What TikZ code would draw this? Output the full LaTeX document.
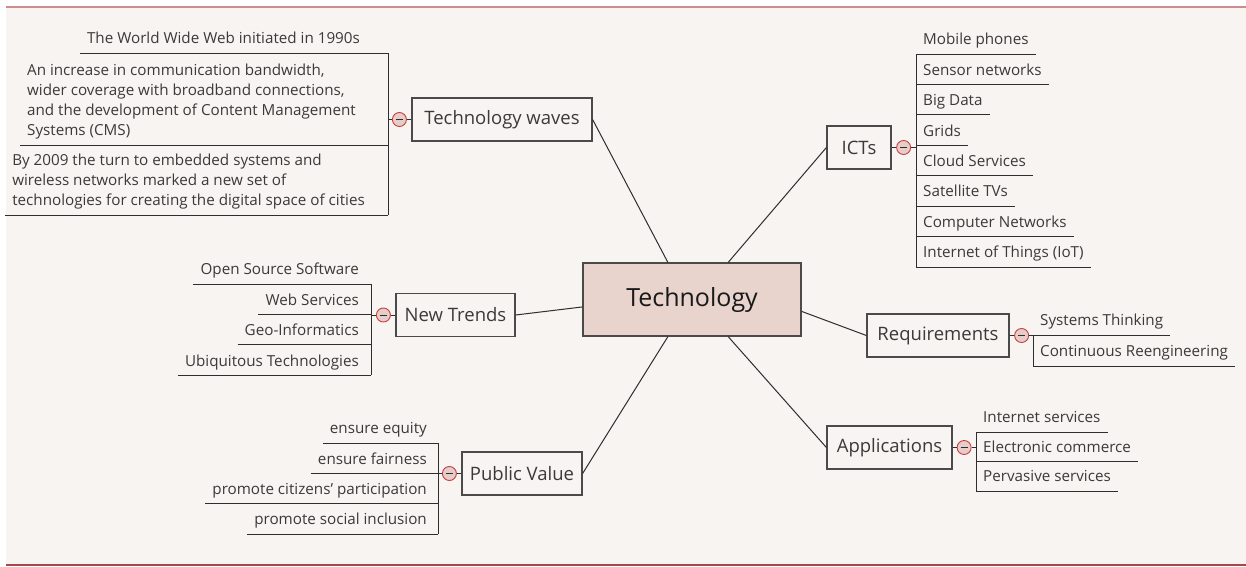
\documentclass[tikz,border=0pt]{standalone}
\usepackage{fontspec}
\setmainfont{Open Sans}
\usetikzlibrary{calc}
\definecolor{paper}{HTML}{F8F4F1}
\definecolor{ink}{HTML}{3A3A3A}
\definecolor{rule}{HTML}{2E2E2E}
\definecolor{boxline}{HTML}{4A4A4A}
\definecolor{techfill}{HTML}{E8D3CD}
\definecolor{foldfill}{HTML}{E6CDC9}
\definecolor{foldred}{HTML}{C63D3D}
\definecolor{toprule}{HTML}{CC8E8C}
\definecolor{botrule}{HTML}{A5494A}
\tikzset{
  topic/.style={draw=boxline,line width=1.2pt,fill=paper,text=ink,
    font=\fontsize{18.5}{22}\selectfont,inner xsep=6pt,minimum height=43pt},
  leaf/.style={text=ink,font=\fontsize{15.2}{20}\selectfont,
    inner xsep=7pt,inner ysep=5pt,text depth=4pt,align=left},
  fold/.style={circle,draw=foldred,fill=foldfill,line width=.9pt,
    minimum size=14pt,inner sep=0pt,
    path picture={\draw[rule,line width=1pt]
      ($(path picture bounding box.center)+(-3.5,0)$) --
      ($(path picture bounding box.center)+(3.5,0)$);}},
  branch/.style={draw=rule,line width=1pt}
}

\begin{document}
\begin{tikzpicture}[x=1pt,y=-1pt]
\useasboundingbox (0,0) rectangle (1246,566);
\fill[paper] (6,7) rectangle (1246,565);
\draw[toprule,line width=1.6pt] (6,7) -- (1246,7);
\draw[botrule,line width=1.6pt] (6,565) -- (1246,565);

\node[draw=boxline,line width=1.2pt,fill=techfill,text=black!90,
  font=\fontsize{25}{30}\selectfont,minimum width=218pt,minimum height=73pt]
  (tech) at (692,299.5) {Technology};

\coordinate (T1) at ($(tech.north west)!.39!(tech.north east)$);
\coordinate (T2) at ($(tech.north west)!.665!(tech.north east)$);
\coordinate (B1) at ($(tech.south west)!.39!(tech.south east)$);
\coordinate (B2) at ($(tech.south west)!.665!(tech.south east)$);
\coordinate (L1) at ($(tech.north west)!.6!(tech.south west)$);
\coordinate (R1) at ($(tech.north east)!.66!(tech.south east)$);

\node[topic,minimum width=180pt] (waves) at (502,119.5) {Technology waves};
\node[topic,minimum width=64pt] (icts) at (859,147.5) {ICTs};
\node[topic,minimum width=119pt] (trends) at (455.5,315) {New Trends};
\node[topic,minimum width=142pt] (req) at (938,335.5) {Requirements};
\node[topic,minimum width=125pt] (apps) at (889.5,447.5) {Applications};
\node[topic,minimum width=120pt] (value) at (522,473.5) {Public Value};

\draw[branch] (waves.east) -- (T1);
\draw[branch] (icts.west) -- (T2);
\draw[branch] (trends.east) -- (L1);
\draw[branch] (req.west) -- (R1);
\draw[branch] (apps.west) -- (B2);
\draw[branch] (value.east) -- (B1);

% technology waves
\coordinate (wtop) at (388,53);
\node[leaf,anchor=south east] (w1) at (367,53) {The World Wide Web initiated in 1990s};
\node[leaf,anchor=south east] (w2) at (363,145) {An increase in communication bandwidth,\\
  wider coverage with broadband connections,\\
  and the development of Content Management\\
  Systems (CMS)};
\node[leaf,anchor=south east] (w3) at (372,215) {By 2009 the turn to embedded systems and\\
  wireless networks marked a new set of\\
  technologies for creating the digital space of cities};
\foreach \item in {w1,w2,w3}
  \draw[branch] (\item.south west) -- (\item.south west -| wtop);
\draw[branch] (wtop) -- (w3.south west -| wtop);
\node[fold] (wfold) at ($(waves.west)+(-12,0)$) {};
\draw[branch] (waves.west) -- (wfold);
\draw[branch] (wfold) -- (wfold -| wtop);

% ICTs
\coordinate (itop) at (916,54);
\foreach \i/\lbl in {1/Mobile phones,2/Sensor networks,3/Big Data,4/Grids,
    5/Cloud Services,6/Satellite TVs,7/Computer Networks,8/Internet of Things (IoT)} {
  \node[leaf,anchor=south west] (i\i) at (916,{54+(\i-1)*30.43}) {\lbl};
  \draw[branch] (i\i.south west) -- (i\i.south east);
}
\draw[branch] (itop) -- (i8.south west);
\node[fold] (ifold) at ($(icts.east)+(12,0)$) {};
\draw[branch] (icts.east) -- (ifold);
\draw[branch] (ifold) -- (ifold -| itop);

% new trends
\coordinate (ntop) at (371,284);
\foreach \i/\lbl in {1/Open Source Software,2/Web Services,3/Geo-Informatics,
    4/Ubiquitous Technologies} {
  \node[leaf,anchor=south east] (n\i) at (366,{284+(\i-1)*30.4}) {\lbl};
  \draw[branch] (n\i.south west) -- (n\i.south west -| ntop);
}
\draw[branch] (ntop) -- (n4.south west -| ntop);
\node[fold] (nfold) at ($(trends.west)+(-12,0)$) {};
\draw[branch] (trends.west) -- (nfold);
\draw[branch] (nfold) -- (nfold -| ntop);

% requirements
\coordinate (rtop) at (1033,335);
\foreach \i/\lbl in {1/Systems Thinking,2/Continuous Reengineering} {
  \node[leaf,anchor=south west] (r\i) at (1033,{335+(\i-1)*31}) {\lbl};
  \draw[branch] (r\i.south west) -- (r\i.south east);
}
\draw[branch] (rtop) -- (r2.south west);
\node[fold] (rfold) at ($(req.east)+(12,0)$) {};
\draw[branch] (req.east) -- (rfold);
\draw[branch] (rfold) -- (rfold -| rtop);

% applications
\coordinate (atop) at (976,432);
\foreach \i/\lbl in {1/Internet services,2/Electronic commerce,3/Pervasive services} {
  \node[leaf,anchor=south west] (a\i) at (976,{432+(\i-1)*29.5}) {\lbl};
  \draw[branch] (a\i.south west) -- (a\i.south east);
}
\draw[branch] (atop) -- (a3.south west);
\node[fold] (afold) at ($(apps.east)+(11.5,0)$) {};
\draw[branch] (apps.east) -- (afold);
\draw[branch] (afold) -- (afold -| atop);

% public value
\coordinate (ptop) at (438,443);
\foreach \i/\lbl in {1/ensure equity,2/ensure fairness,
    3/promote citizens’ participation,4/promote social inclusion} {
  \node[leaf,anchor=south east] (p\i) at (434,{443+(\i-1)*30.33}) {\lbl};
  \draw[branch] (p\i.south west) -- (p\i.south west -| ptop);
}
\draw[branch] (ptop) -- (p4.south west -| ptop);
\node[fold] (pfold) at ($(value.west)+(-12,0)$) {};
\draw[branch] (value.west) -- (pfold);
\draw[branch] (pfold) -- (pfold -| ptop);
\end{tikzpicture}
\end{document}
